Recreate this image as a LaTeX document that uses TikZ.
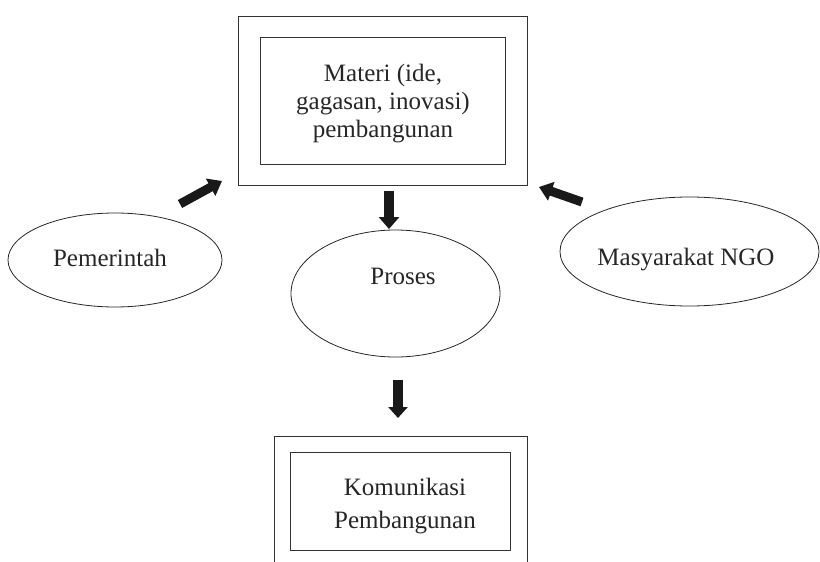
\documentclass[tikz,border=0pt]{standalone}
\usepackage{fontspec}
\setmainfont{Liberation Serif}
\usetikzlibrary{shapes.geometric,arrows.meta}
\tikzset{
  frame/.style={draw=black!80, line width=0.9pt, inner sep=0pt},
  oval/.style={ellipse, draw=black!85, line width=0.8pt, inner sep=0pt},
  txt/.style={text=black!85, font=\fontsize{25}{28}\selectfont, align=center, inner sep=0pt},
  blockarrow/.style={draw=black!90, line width=10pt, -{Triangle[width=20pt,length=12pt]}},
}
\begin{document}
\begin{tikzpicture}[x=1pt,y=-1pt]
\useasboundingbox (0,0) rectangle (820,562);
% top box
\node[frame, minimum width=289, minimum height=169] (mouter) at (382.5,100.5) {};
\node[frame, minimum width=245, minimum height=127] (minner) at (382.5,100.5) {};
\node[txt] (mtext) at (383,104) {Materi (ide,\\gagasan, inovasi)\\pembangunan};
% bottom box
\draw[draw=black!80, line width=0.9pt] (274,562) |- (527,436) -- (527,562);
\node[frame, minimum width=220, minimum height=98] (kinner) at (400,501) {};
\node[txt, font=\fontsize{25}{33}\selectfont] (ktext) at (405,506) {Komunikasi\\Pembangunan};
% ellipses
\node[oval, minimum width=214, minimum height=94] (pem) at (115,260) {};
\node[txt] (pemt) at (110,258) {Pemerintah};
\node[oval, minimum width=259, minimum height=109] (ngo) at (689.5,251.5) {};
\node[txt] (ngot) at (686,260) {Masyarakat NGO};
\node[oval, minimum width=209, minimum height=127] (pro) at (395.5,293.5) {};
\node[txt] (prot) at (403,276) {Proses};
% arrow end points
\coordinate (a1s) at (180,204);
\coordinate (a1e) at (222,181);
\coordinate (a2s) at (582,202);
\coordinate (a2e) at (539,187);
\coordinate (a3s) at (389,191);
\coordinate (a3e) at (389,229);
\coordinate (a4s) at (398,380);
\coordinate (a4e) at (398,418);
\draw[blockarrow, line width=9pt, -{Triangle[width=19pt,length=13pt]}] (a1s) -- (a1e);
\draw[blockarrow, line width=9pt, -{Triangle[width=19pt,length=13pt]}] (a2s) -- (a2e);
\draw[blockarrow] (a3s) -- (a3e);
\draw[blockarrow, -{Triangle[width=19pt,length=11pt]}] (a4s) -- (a4e);
\end{tikzpicture}
\end{document}
